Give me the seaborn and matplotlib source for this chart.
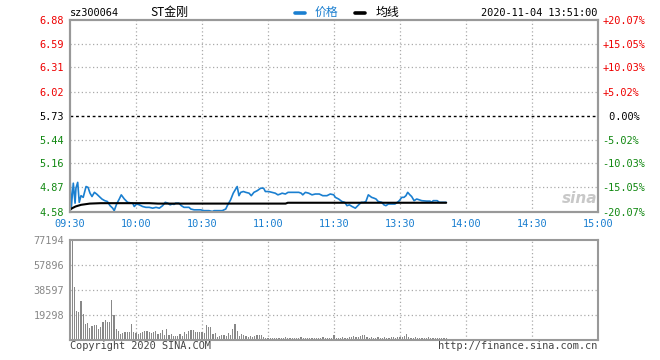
import numpy as np
import pandas as pd
import matplotlib
matplotlib.use("Agg")
import matplotlib.pyplot as plt
import seaborn as sns

# ---------------- data ----------------
pre_close = 5.73
price_ticks = [4.58, 4.87, 5.16, 5.44, 5.73, 6.02, 6.31, 6.59, 6.88]
pct_labels = ["-20.07%", "-15.05%", "-10.03%", "-5.02%", " 0.00%",
              "+5.02%", "+10.03%", "+15.05%", "+20.07%"]
time_ticks = [0, 30, 60, 90, 120, 150, 180, 210, 240]
time_labels = ["09:30", "10:00", "10:30", "11:00", "11:30",
               "13:30", "14:00", "14:30", "15:00"]
vol_ticks = [19298, 38597, 57896, 77194]

price_minutes = [0, 0.6, 1.5, 2.3, 2.7, 3.5, 4.2, 5, 6, 7.3, 8.2, 9.1, 10, 11.1, 12.1,
                 13.3, 14.5, 15.8, 17, 18.2, 19.4, 20.1, 21.2, 22.4, 23.3, 24.7, 26.2,
                 28.5, 29.2, 30.3, 31.5, 33, 34.5, 36, 37.6, 39.1, 40.6, 42.1, 43.3,
                 44.5, 45.5, 46.5, 47.3, 48, 49.5, 50.6, 51.8, 54.1, 54.9, 56.4, 59.4,
                 60.9, 63.2, 64.7, 65.5, 67, 69.2, 70.8, 71.5, 73, 74.2, 75.3, 76, 76.8,
                 77.6, 78.8, 79.9, 81.4, 82.4, 83.6, 85.1, 86.7, 88, 88.8, 90.3, 91.8,
                 93.3, 94.5, 95.6, 96.4, 97.9, 99.1, 100.9, 104, 105.1, 105.8, 107,
                 108.5, 110, 111.5, 113.3, 114.9, 116.8, 118.3, 119.9, 120.6, 122.1,
                 123.6, 124.9, 125.9, 127, 128.2, 129.7, 131.2, 132.4, 133.6, 134.5,
                 135.6, 137.1, 138.2, 139.1, 140.1, 141.7, 142.7, 143.6, 144.7, 147,
                 147.7, 148.8, 149.7, 150.8, 151.8, 152.7, 153.5, 154.5, 155.3, 156.4,
                 157.6, 158.8, 159.9, 162.1, 163.6, 164.4, 165.1, 166.9, 167.9, 169.7,
                 171]
prices = [4.98, 4.63, 4.92, 4.68, 4.86, 4.93, 4.69, 4.77, 4.75, 4.88, 4.87, 4.80, 4.76,
          4.81, 4.79, 4.76, 4.73, 4.71, 4.70, 4.65, 4.62, 4.59, 4.67, 4.73, 4.78, 4.73,
          4.69, 4.68, 4.64, 4.67, 4.66, 4.64, 4.63, 4.63, 4.62, 4.63, 4.62, 4.65, 4.69,
          4.68, 4.66, 4.67, 4.665, 4.68, 4.68, 4.65, 4.63, 4.63, 4.61, 4.60, 4.60,
          4.59, 4.59, 4.58, 4.59, 4.59, 4.59, 4.61, 4.65, 4.72, 4.80, 4.85, 4.88, 4.77,
          4.81, 4.82, 4.81, 4.80, 4.77, 4.81, 4.83, 4.86, 4.86, 4.82, 4.82, 4.81,
          4.80, 4.78, 4.79, 4.80, 4.79, 4.81, 4.81, 4.81, 4.80, 4.78, 4.81,
          4.80, 4.78, 4.79, 4.79, 4.77, 4.77, 4.79, 4.78, 4.75, 4.73,
          4.70, 4.69, 4.65, 4.66, 4.64, 4.62, 4.66, 4.69, 4.69, 4.70,
          4.78, 4.75, 4.74, 4.73, 4.70, 4.69, 4.66, 4.65, 4.67, 4.67,
          4.67, 4.69, 4.71, 4.75, 4.75, 4.77, 4.81, 4.78, 4.76, 4.71,
          4.73, 4.72, 4.71, 4.705, 4.705, 4.69, 4.71, 4.71, 4.69, 4.69,
          4.69]

avg_minutes = [0, 1, 2.5, 5, 9, 14, 36, 40, 98, 99, 171]
avg_prices = [4.60, 4.62, 4.64, 4.66, 4.675, 4.68, 4.68, 4.675, 4.675, 4.685, 4.685]

volumes = [32600, 77194, 41100, 22400, 21300, 30100, 19800, 12300, 12900, 9500,
           11000, 11600, 11600, 8500, 10000, 14100, 15400, 13600, 14100, 30900,
           19300, 8500, 6900, 4400, 5100, 5900, 6400, 5900, 12300, 5900,
           5100, 4400, 5100, 6400, 6900, 6900, 5900, 5100, 6400, 6900,
           4400, 5100, 7700, 3900, 8500, 3900, 4400, 3300, 3300, 3300,
           4400, 3300, 6400, 4400, 6900, 7700, 7700, 5900, 6400, 6400,
           5900, 5100, 11600, 10300, 10300, 4400, 5100, 2600, 3300, 3900,
           3900, 3300, 5100, 3900, 8500, 12300, 6900, 3300, 4400, 3900,
           3300, 2600, 3300, 2600, 3100, 3900, 3900, 3900, 2600, 1800,
           1500, 1800, 1300, 1500, 1800, 1500, 1300, 1800, 2100, 1500,
           1300, 1500, 1800, 1300, 1500, 2600, 1800, 1500, 1300, 1300,
           1500, 1800, 1500, 1300, 1500, 2100, 1800, 1500, 1300, 1800,
           3900, 1800, 1500, 1300, 2100, 1800, 1500, 2100, 2600, 3100,
           2600, 2100, 3100, 3900, 3900, 2600, 1800, 2100, 1500, 1800,
           2100, 1500, 1800, 2100, 1800, 1500, 2100, 2600, 1800, 2600,
           2600, 2100, 3100, 4600, 2600, 1800, 1500, 2100, 1800, 1500,
           1800, 1300, 1500, 2100, 1800, 1500, 1300, 1800, 1500, 1300,
           1500, 1300]

# ---------------- style ----------------
sns.set_style("white")
plt.rcParams['font.family'] = ['DejaVu Sans Mono', 'Noto Sans CJK SC']
BLUE = "#1a7fd0"
RED = "#ee0000"
GREEN = "#118811"
GRID = "#aaaaaa"
FRAME = "#999999"
FS = 7.4

W, H = 660, 360
fig = plt.figure(figsize=(W / 100, H / 100), dpi=100)
fig.patch.set_facecolor("white")

def fx(px):
    return px / W

def fy(py):
    return 1 - py / H

ax1 = fig.add_axes([fx(70), fy(211.5), fx(598) - fx(70), fy(20) - fy(211.5)])
ax2 = fig.add_axes([fx(70), fy(340), fx(598) - fx(70), fy(240) - fy(340)])

# ---------------- price panel ----------------
for t in time_ticks[1:-1]:
    ax1.axvline(t, color=GRID, lw=0.9, ls=(0, (1, 2)), zorder=0)
    ax2.axvline(t, color=GRID, lw=0.9, ls=(0, (1, 2)), zorder=0)
for p in price_ticks[1:-1]:
    if p == pre_close:
        ax1.axhline(p, color="black", lw=1.0, ls=(0, (2, 2)), zorder=1)
    else:
        ax1.axhline(p, color=GRID, lw=0.9, ls=(0, (1, 2)), zorder=0)

sns.lineplot(x=price_minutes, y=prices, ax=ax1, color=BLUE, lw=1.2,
             estimator=None, sort=False, zorder=3)
sns.lineplot(x=avg_minutes, y=avg_prices, ax=ax1, color="black", lw=1.5,
             estimator=None, sort=False, zorder=4)

ax1.set_xlim(0, 240)
ax1.set_ylim(price_ticks[0], price_ticks[-1])
ax1.set_yticks(price_ticks)
ax1.set_yticklabels([f"{p:.2f}" for p in price_ticks], fontsize=FS)
for lab, p in zip(ax1.get_yticklabels(), price_ticks):
    lab.set_color(RED if p > pre_close else ("black" if p == pre_close else GREEN))
ax1.set_xticks(time_ticks)
ax1.set_xticklabels(time_labels, fontsize=FS, color=BLUE)
ax1.tick_params(axis="both", length=0)
ax1.tick_params(axis="y", pad=4.3)
ax1.tick_params(axis="x", pad=5.5)
ax1.set_xlabel("")
ax1.set_ylabel("")

axr = ax1.twinx()
axr.set_ylim(price_ticks[0], price_ticks[-1])
axr.set_yticks(price_ticks)
axr.set_yticklabels(pct_labels, fontsize=FS)
for lab, p in zip(axr.get_yticklabels(), price_ticks):
    lab.set_color(RED if p > pre_close else ("black" if p == pre_close else GREEN))
axr.tick_params(axis="y", length=0, pad=3.3)

for a in (ax1, axr, ax2):
    for s in a.spines.values():
        s.set_color(FRAME)
        s.set_linewidth(1.5)

# ---------------- volume panel ----------------
for v in vol_ticks[:-1]:
    ax2.axhline(v, color=GRID, lw=0.9, ls=(0, (1, 2)), zorder=0)
vol_minutes = list(range(len(volumes)))
sns.barplot(x=vol_minutes, y=volumes, native_scale=True, color="#888888",
            width=0.62, errorbar=None, saturation=1, linewidth=0,
            ax=ax2, zorder=2)
ax2.set_xlim(0, 240)
ax2.set_ylim(0, vol_ticks[-1])
ax2.set_yticks(vol_ticks)
ax2.set_yticklabels([str(v) for v in vol_ticks], fontsize=FS, color="#888888")
ax2.set_xticks([])
ax2.tick_params(axis="y", length=0, pad=4.3)
ax2.set_xlabel("")
ax2.set_ylabel("")

# ---------------- header / footer text ----------------
fig.text(fx(70), fy(13), "sz300064", fontsize=FS, color="black", va="center", ha="left")
fig.text(fx(150), fy(12.5), "ST金刚", fontsize=8.6, color="black", va="center", ha="left",
         family=['Noto Sans CJK SC', 'DejaVu Sans'])
fig.add_artist(plt.Line2D([fx(295), fx(305)], [fy(12.5), fy(12.5)], color=BLUE, lw=2.6))
fig.text(fx(315), fy(12.5), "价格", fontsize=8.6, color=BLUE, va="center", ha="left",
         family=['Noto Sans CJK SC', 'DejaVu Sans'])
fig.add_artist(plt.Line2D([fx(355), fx(365)], [fy(12.5), fy(12.5)], color="black", lw=2.6))
fig.text(fx(376), fy(12.5), "均线", fontsize=8.6, color="black", va="center", ha="left",
         family=['Noto Sans CJK SC', 'DejaVu Sans'])
fig.text(fx(597), fy(13), "2020-11-04 13:51:00", fontsize=FS, color="black",
         va="center", ha="right")
fig.text(fx(70), fy(346), "Copyright 2020 SINA.COM", fontsize=FS, color="#444444",
         va="center", ha="left")
fig.text(fx(597), fy(346), "http://finance.sina.com.cn", fontsize=FS, color="#444444",
         va="center", ha="right")
fig.text(fx(580), fy(198), "sina", fontsize=11, color="#c8c8c8", style="italic",
         weight="bold", va="center", ha="center", family="DejaVu Sans")

fig.savefig("out.png", dpi=100, facecolor="white")
